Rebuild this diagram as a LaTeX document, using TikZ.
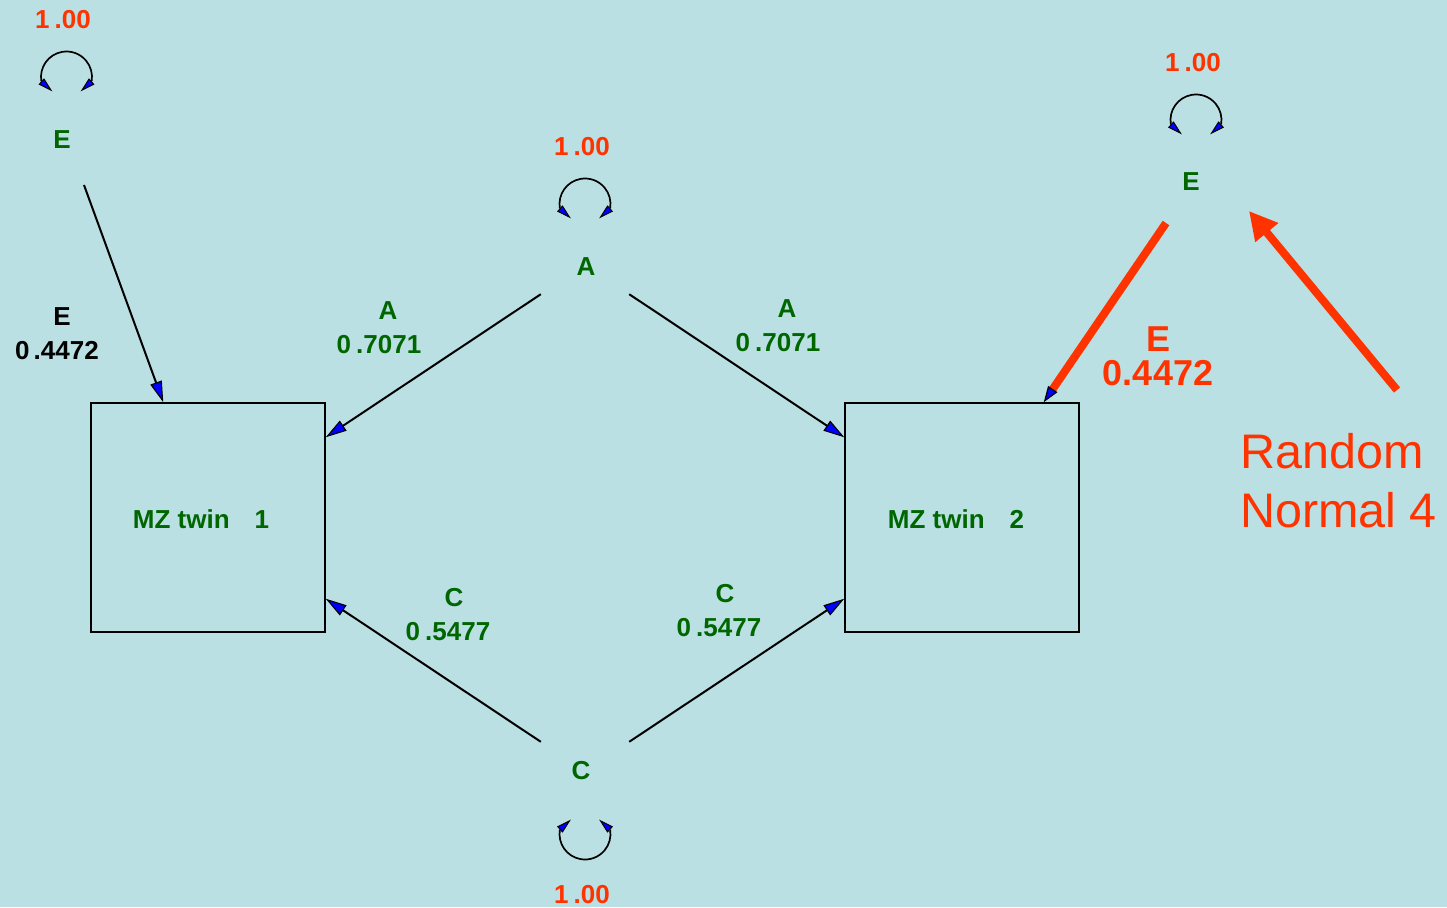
\documentclass[tikz,border=0pt]{standalone}
\usepackage{fontspec}
\setmainfont{Liberation Sans}
\usetikzlibrary{arrows.meta}
\definecolor{bg}{HTML}{BBE0E3}
\definecolor{grn}{HTML}{006600}
\definecolor{org}{HTML}{FF3300}
\begin{document}
\begin{tikzpicture}[x=1pt,y=-1pt,
  lbl/.style={inner sep=0pt, font=\bfseries\fontsize{26}{34}\selectfont, align=center},
  glbl/.style={lbl, text=grn},
  olbl/.style={lbl, text=org},
  box/.style={draw=black, line width=1.5pt, minimum width=234pt, minimum height=229pt, inner sep=0pt},
  arr/.style={line width=2pt, -{Triangle[length=21pt,width=12pt,fill=blue,line width=1.1pt]}},
  loopline/.style={line width=1.7pt},
  looptip/.style={line width=1.6pt, -{Triangle[length=15pt,width=8pt,fill=blue,line width=1pt]}},
  thickred/.style={draw=org, line width=8pt},
]
\fill[bg] (0,0) rectangle (1447,907);
\useasboundingbox (0,0) rectangle (1447,907);

% boxes
\node[box] (b1) at (208,517.5) {};
\node[box] (b2) at (962,517.5) {};
\node[glbl] (b1t) at (201,519) {MZ twin\hspace{25pt}1};
\node[glbl] (b2t) at (956,519) {MZ twin\hspace{25pt}2};

% latent labels
\node[glbl] (E1) at (62,140) {E};
\node[inner sep=0pt, minimum width=88pt, minimum height=54pt] (A) at (585,267) {};
\node[glbl] (At) at (586,267) {A};
\node[inner sep=0pt, minimum width=88pt, minimum height=54pt] (C) at (585,769) {};
\node[glbl] (Ct) at (581,771) {C};
\node[glbl] (E2) at (1191,182) {E};

% variances
\node[olbl] (v1) at (63,20) {1\kern5pt.00};
\node[olbl] (vA) at (582,147) {1\kern5pt.00};
\node[olbl] (v2) at (1193,63) {1\kern5pt.00};
\node[olbl] (vC) at (582,895) {1\kern5pt.00};

% self loops
\coordinate (cE1) at (66.5,77);
\coordinate (cA) at (585,204);
\coordinate (cE2) at (1196,120);
\coordinate (cC) at (585,834);
\foreach \c in {cE1,cA,cE2}{
  \draw[loopline] ([shift={(170:25.5)}]\c) coordinate (\c l) arc[start angle=170, end angle=370, radius=25.5] coordinate (\c r);
  \draw[looptip] (\c l) -- ++(11,10);
  \draw[looptip] (\c r) -- ++(-11,10);
}
\draw[loopline] ([shift={(190:25.5)}]cC) coordinate (cCl) arc[start angle=190, end angle=-10, radius=25.5] coordinate (cCr);
\draw[looptip] (cCl) -- ++(11,-10);
\draw[looptip] (cCr) -- ++(-11,-10);

% paths
\coordinate (e1out) at (84,185);
\coordinate (e2out) at (1166,223);
\draw[arr] (e1out) -- ([shift={(73,0)}]b1.north west);
\draw[arr] (A.south west) -- ([shift={(0,35)}]b1.north east);
\draw[arr] (A.south east) -- ([shift={(0,35)}]b2.north west);
\draw[arr] (C.north west) -- ([shift={(0,-34)}]b1.south east);
\draw[arr] (C.north east) -- ([shift={(0,-34)}]b2.south west);
\draw[thickred, -{Triangle[length=16pt,width=11pt,fill=blue,color=black,line width=1.2pt]}] (e2out) -- ([shift={(-36,0)}]b2.north east);

% path labels
\node[lbl] (lE1) at (57,334) {\hspace*{10pt}E\\0\kern4pt.4472};
\node[glbl] (lA1) at (379,328) {\hspace*{18pt}A\\0\kern5pt.7071};
\node[glbl] (lA2) at (778,326) {\hspace*{18pt}A\\0\kern5pt.7071};
\node[glbl] (lC1) at (448,615) {\hspace*{12pt}C\\0\kern5pt.5477};
\node[glbl] (lC2) at (719,611) {\hspace*{12pt}C\\0\kern5pt.5477};
\node[olbl, font=\bfseries\fontsize{36}{34}\selectfont] (lE2) at (1158,356.5) {E\\0.4472};

% annotation
\coordinate (rn) at (1397,390);
\coordinate (e2in) at (1249,211);
\draw[thickred, -{Triangle[length=28pt,width=28pt,fill=org,color=org]}] (rn) -- (e2in);
\node[inner sep=0pt, anchor=base west, align=left, text=org, font=\fontsize{48.5}{59}\selectfont] (rnt) at (1240,527) {Random\\Normal 4};
\end{tikzpicture}
\end{document}
